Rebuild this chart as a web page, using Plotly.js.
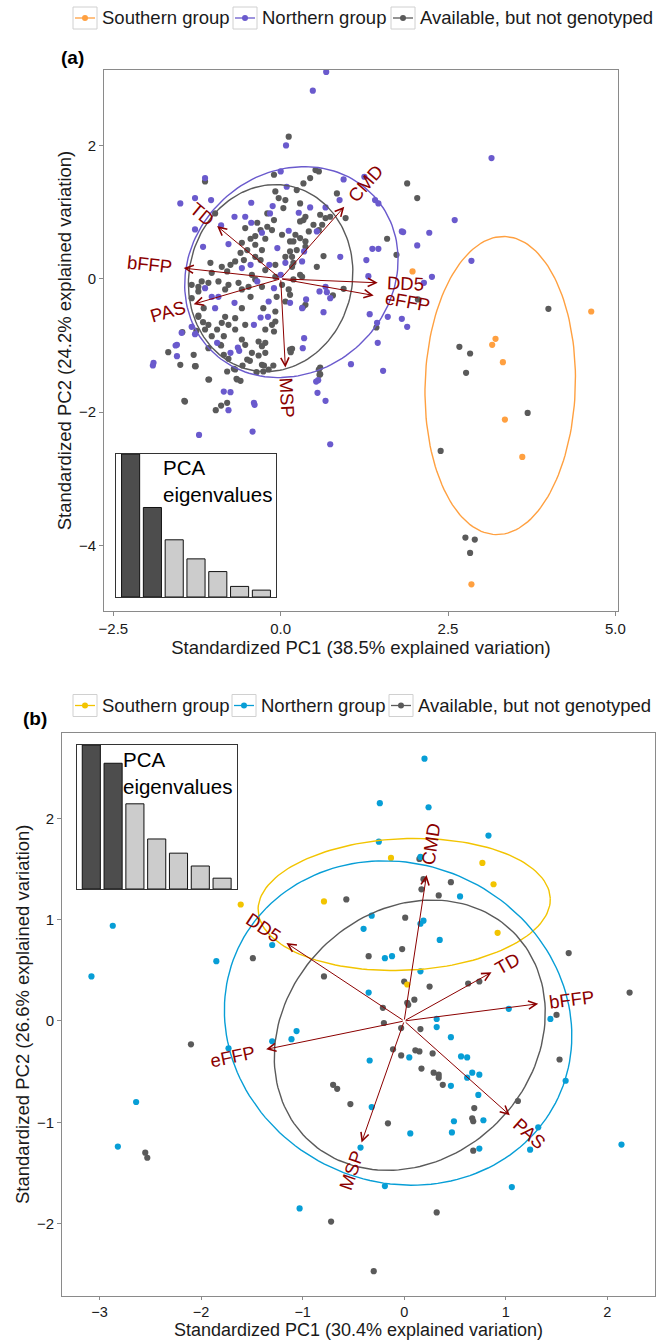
<!DOCTYPE html>
<html><head><meta charset="utf-8">
<script src="https://cdn.plot.ly/plotly-3.0.1.min.js"></script>
<style>html,body{margin:0;padding:0;background:#fff}#chart{width:667px;height:1340px}</style>
</head><body><div id="chart"></div>
<script>
// ---------------- DATA ----------------
const groupNames = ['Southern group', 'Northern group', 'Available, but not genotyped'];

// Panel (a) scores [PC1, PC2]
const southA = [[1.97,0.11],[4.64,-0.49],[3.21,-0.90],[3.16,-0.99],[3.32,-1.25],[3.35,-2.11],[3.61,-2.67],[2.85,-4.58]];
const northA = [[0.68,3.10],[0.48,2.82],[0.08,2.00],[-1.13,1.51],[-1.50,1.13],[-1.28,1.21],[-1.04,1.18],[-1.28,0.74],[-1.16,0.48],
[-0.44,1.14],[-0.69,0.93],[-0.53,0.93],[-0.44,0.84],[-0.89,0.80],[-0.78,0.52],[-0.12,1.09],[-0.16,0.98],[0.00,1.61],[0.09,1.38],
[0.12,0.72],[-0.28,0.69],[-0.05,0.46],[-0.58,0.16],[-0.45,0.21],[-0.17,0.21],[0.07,0.24],[0.00,0.06],[0.94,1.49],[1.25,1.53],
[0.88,1.18],[1.41,1.18],[1.46,1.13],[0.44,1.07],[0.27,0.99],[0.67,1.07],[1.81,0.71],[1.37,0.45],[1.46,0.45],[1.28,0.28],[0.89,0.33],
[1.31,0.04],[0.35,0.41],[0.32,0.26],[0.54,0.71],[3.15,1.81],[2.60,0.88],[1.83,0.70],[2.22,0.69],[2.04,0.50],[2.85,0.27],[2.26,0.03],
[2.14,-0.06],[-0.35,-0.04],[-0.10,-0.14],[-0.93,-0.27],[-1.03,-0.27],[-0.69,-0.36],[-0.18,-0.34],[-0.98,-0.44],[-1.13,-0.14],
[-0.30,-0.58],[-0.19,-0.57],[-0.40,-0.69],[-1.33,-0.72],[-1.28,-0.83],[-1.48,-0.81],[-1.55,-0.99],[-1.55,-1.16],[-0.95,-0.96],
[-0.64,-1.03],[-0.75,-1.11],[-0.85,-1.69],[-0.75,-1.70],[-0.40,-1.86],[0.67,-0.12],[0.58,-0.19],[0.69,-0.20],[0.74,-0.29],
[0.38,-0.31],[0.32,-0.44],[0.64,-0.50],[1.33,-0.53],[1.60,-0.57],[1.81,-0.60],[1.89,-0.72],[1.44,-0.66],[0.35,-0.89],[0.33,-1.04],
[1.45,-0.96],[1.05,-1.28],[1.53,-1.38],[0.53,-1.54],[0.55,-1.71],[0.67,-1.83],[0.14,-0.36],[-1.90,-1.26],[-1.91,-1.30],[-1.57,-1.00],
[-1.22,-2.34],[-0.39,-1.89],[-0.42,-2.29],[0.74,-2.48],[0.56,-1.52],[-0.62,-1.08],[-0.78,-1.97]];
const availA = [[0.12,2.13],[-1.13,1.46],[-0.10,1.56],[-0.08,1.31],[-0.03,1.21],[0.07,1.18],[0.04,1.06],[-0.98,0.98],[-0.20,0.98],
[-0.10,0.88],[-0.35,0.84],[-0.20,0.78],[-0.53,0.76],[-0.30,0.73],[-0.13,0.73],[-0.38,0.64],[0.02,0.66],[-0.45,0.60],[-0.23,0.60],
[-0.58,0.54],[-0.38,0.51],[0.14,0.56],[-0.50,0.43],[-0.28,0.43],[-0.60,0.39],[-0.38,0.33],[-0.55,0.28],[-0.68,0.26],[-0.75,0.21],
[-0.88,0.18],[-0.30,0.28],[-0.08,0.21],[0.17,0.18],[-0.23,0.13],[-0.80,0.11],[-1.03,0.09],[-0.43,0.06],[-1.05,0.24],[0.07,0.33],
[0.14,0.41],[1.89,1.43],[0.84,1.28],[1.59,0.60],[1.73,0.36],[0.97,0.91],[0.64,0.34],[0.54,0.18],[0.29,0.06],[0.52,1.63],[0.57,1.61],
[0.44,1.51],[0.34,1.43],[0.24,1.33],[0.29,1.13],[0.37,0.93],[0.34,0.88],[0.59,0.96],[0.67,0.91],[0.74,0.93],[0.62,0.81],[0.49,0.81],
[0.29,0.86],[0.57,0.73],[0.42,0.71],[0.22,0.66],[0.29,0.61],[0.37,0.56],[0.19,0.56],[0.24,0.43],[0.37,0.48],[0.17,0.33],[0.19,0.24],
[-1.18,-0.04],[-1.08,-0.06],[-0.93,-0.04],[-0.78,-0.09],[-0.63,-0.06],[-0.58,-0.16],[-0.48,-0.12],[-0.28,-0.12],[0.02,-0.09],
[0.12,-0.16],[-1.23,-0.19],[-1.33,-0.29],[-0.83,-0.16],[-0.45,-0.27],[-0.06,-0.27],[0.07,-0.34],[-1.15,-0.44],[-0.58,-0.44],
[-0.26,-0.44],[-0.08,-0.49],[-1.23,-0.57],[-0.83,-0.57],[-0.68,-0.59],[-0.88,-0.66],[-0.78,-0.69],[-1.08,-0.69],[-0.53,-0.69],
[-0.13,-0.69],[-0.08,-0.64],[-1.13,-0.76],[-0.95,-0.76],[-0.68,-0.76],[-0.23,-0.76],[-0.10,-0.79],[-1.03,-0.86],[-0.85,-0.86],
[-0.58,-0.91],[-0.33,-0.94],[-0.23,-0.96],[-0.90,-0.99],[-0.53,-0.99],[-0.28,-1.01],[-1.08,-1.04],[-0.43,-1.11],[-0.23,-1.11],
[-0.85,-1.14],[-1.30,-1.14],[-1.50,-1.29],[-0.50,-1.21],[-0.28,-1.29],[-0.18,-1.36],[-0.26,-1.39],[-1.28,-1.31],[-0.80,-1.39],
[-0.68,-1.36],[-1.08,-1.51],[-0.65,-1.51],[-0.60,-1.53],[-1.43,-1.84],[-0.80,-1.86],[-0.38,-0.01],[-0.08,0.03],[0.32,0.03],
[0.94,-0.15],[0.78,-0.25],[0.37,-0.39],[0.33,-0.43],[0.14,-0.24],[0.14,-1.06],[1.43,-0.73],[0.57,-1.36],[0.58,-1.44],[0.19,-0.01],
[2.04,1.21],[2.67,-1.02],[4.00,-0.45],[2.05,-0.31],[2.83,-1.12],[2.77,-1.41],[3.69,-2.01],[2.39,-2.58],[2.76,-3.88],[2.90,-3.91],
[2.83,-4.11],[-1.68,-1.10],[-1.47,-0.80],[-1.27,-1.31],[-1.07,-1.51],[-1.44,-1.83],[-0.97,-1.97],[-0.89,-1.90],[-0.66,-1.50],
[0.59,-1.33],[0.59,-1.43],[0.17,-1.05],[0.15,-1.10],[-1.16,-0.65],[-1.23,-0.55],[-1.26,-0.78],[-0.89,-1.00],[-0.78,-1.20],
[-0.46,-1.23],[-0.33,-1.15],[-0.25,-1.30],[-0.11,-1.30],[-0.36,-1.40],[-0.57,-1.30],[-0.70,-1.35],[-1.33,-0.09],[-1.23,-0.12]];

// Panel (b) scores [PC1, PC2]
const southB = [[-1.61,1.15],[-0.79,1.18],[-0.13,1.61],[0.77,1.56],[0.88,1.35],[0.92,0.87],[0.03,0.36]];
const northB = [[-2.87,0.94],[-1.30,0.75],[-1.85,0.59],[-3.08,0.44],[0.20,2.59],[-0.24,2.15],[0.24,2.11],[0.83,1.83],[-0.25,1.77],
[0.16,1.62],[0.55,1.23],[-0.32,1.04],[0.16,0.96],[0.19,0.99],[-0.40,0.91],[0.35,0.80],[-0.19,0.62],[-0.12,0.64],[0.16,0.49],
[-0.35,0.28],[1.03,0.12],[1.44,0.02],[0.32,0.02],[0.32,-0.06],[-1.06,-0.10],[-1.30,-0.20],[-1.11,-0.18],[0.46,-0.16],[-1.73,-0.27],
[0.05,-0.36],[0.56,-0.35],[0.62,-0.36],[-0.34,-0.39],[0.67,-0.51],[0.74,-0.53],[0.62,-0.56],[0.46,-0.64],[1.59,-0.59],[0.73,-0.73],
[-2.64,-0.80],[-0.32,-0.85],[0.49,-0.99],[0.78,-0.98],[0.06,-1.11],[0.47,-1.10],[1.32,-1.05],[2.14,-1.22],[-2.82,-1.24],[-0.43,-1.25],
[1.24,-1.27],[0.74,-1.26],[-0.19,-1.63],[1.06,-1.64],[-1.03,-1.85]];
const availB = [[-1.49,0.62],[-0.57,1.20],[-0.79,0.44],[0.19,1.40],[0.46,1.37],[0.17,1.30],[0.34,1.24],[0.01,1.02],[1.62,0.67],
[-0.02,0.71],[-0.35,0.64],[0.00,0.39],[0.25,0.34],[0.63,0.37],[0.74,0.39],[0.15,1.60],[2.22,0.28],[0.10,0.21],[0.03,0.18],[0.04,0.16],
[-0.21,0.13],[1.50,0.06],[-0.20,-0.02],[-0.03,-0.07],[0.16,-0.08],[-2.10,-0.23],[-0.11,-0.28],[0.11,-0.29],[0.15,-0.30],[-0.03,-0.34],
[0.28,-0.32],[0.17,-0.47],[0.29,-0.51],[0.34,-0.53],[0.34,-0.56],[0.38,-0.63],[1.53,-0.38],[-0.70,-0.63],[-0.66,-0.67],[1.12,-0.79],
[-0.53,-0.82],[0.69,-0.86],[0.67,-0.96],[0.68,-0.99],[-0.16,-1.01],[-2.55,-1.30],[-2.53,-1.35],[0.68,-1.28],[-0.72,-1.98],[0.32,-1.89],
[-0.30,-2.47]];

// Normal-data ellipses per group: [centre x, centre y, semi-axis a, semi-axis b, angle of a (deg)]
const ellipseA = [[3.28,-1.60,2.236,1.123,88.3],[0.16,0.10,1.68,1.49,43],[-0.15,0.01,1.41,1.22,78]];
const ellipseB = [[0.00,1.15,1.44,0.65,2.5],[-0.06,-0.02,1.74,1.57,155],[0.055,-0.14,1.44,1.22,45]];

// Variable loadings (arrow tips)
const loadNamesA = ['CMD','TD','bFFP','PAS','MSP','DD5','eFFP'];
const loadXA = [0.95,-0.95,-1.45,-1.30,0.07,1.45,1.39];
const loadYA = [1.08,0.79,0.16,-0.38,-1.33,-0.06,-0.25];
const loadNamesB = ['CMD','DD5','TD','bFFP','PAS','MSP','eFFP'];
const loadXB = [0.22,-1.16,0.86,1.32,1.04,-0.42,-1.36];
const loadYB = [1.44,0.77,0.48,0.17,-0.93,-1.20,-0.28];

// PCA eigenvalues (insets)
const pcIndex = [1,2,3,4,5,6,7];
const eigenA = [2.70,1.69,1.08,0.72,0.48,0.20,0.13];
const eigenB = [2.13,1.86,1.26,0.74,0.53,0.34,0.16];
const retainedPCs = 2;

// Tick labels
const xTickValsA = [-2.5,0,2.5,5], xTickTextA = ['\u22122.5','0.0','2.5','5.0'];
const yTickValsA = [-4,-2,0,2], yTickTextA = ['\u22124','\u22122','0','2'];
const xTickValsB = [-3,-2,-1,0,1,2], xTickTextB = ['\u22123','\u22122','\u22121','0','1','2'];
const yTickValsB = [-2,-1,0,1,2], yTickTextB = ['\u22122','\u22121','0','1','2'];
const xTitleA = 'Standardized PC1 (38.5% explained variation)';
const yTitleA = 'Standardized PC2 (24.2% explained variation)';
const xTitleB = 'Standardized PC1 (30.4% explained variation)';
const yTitleB = 'Standardized PC2 (26.6% explained variation)';

// ---------------- STYLE ----------------
const W = 667, H = 1340;
const FONT = '"Liberation Sans", Arial, Helvetica, sans-serif';
const colorsA = ['#FFA040', '#6A5ACD', '#5A5A5A'];
const colorsB = ['#F2C400', '#079ED6', '#5A5A5A'];
const ARROW = '#8B0000';
const TXT = '#1a1a1a';
const px = v => v / W, py = v => 1 - v / H;

function ellipseTrace(p, color, xa, ya) {
  const [cx, cy, a, b, ang] = p, phi = ang * Math.PI / 180, xs = [], ys = [];
  for (let i = 0; i <= 160; i++) {
    const t = 2 * Math.PI * i / 160, ex = a * Math.cos(t), ey = b * Math.sin(t);
    xs.push(cx + ex * Math.cos(phi) - ey * Math.sin(phi));
    ys.push(cy + ex * Math.sin(phi) + ey * Math.cos(phi));
  }
  return {x: xs, y: ys, xaxis: xa, yaxis: ya, mode: 'lines', line: {color, width: 1.4}, hoverinfo: 'skip', showlegend: false};
}
function pointTrace(pts, color, xa, ya) {
  return {x: pts.map(p => p[0]), y: pts.map(p => p[1]), xaxis: xa, yaxis: ya, mode: 'markers',
          marker: {color, size: 6.2, line: {width: 0}}, showlegend: false, hoverinfo: 'skip'};
}

const traces = [];
[availA, northA, southA].forEach((g, k) => traces.push(pointTrace(g, colorsA[2 - k], 'x', 'y')));
[availB, northB, southB].forEach((g, k) => traces.push(pointTrace(g, colorsB[2 - k], 'x2', 'y2')));
ellipseA.forEach((p, k) => traces.push(ellipseTrace(p, colorsA[k], 'x', 'y')));
ellipseB.forEach((p, k) => traces.push(ellipseTrace(p, colorsB[k], 'x2', 'y2')));
function barTrace(vals, xa, ya) {
  return {type: 'bar', x: pcIndex, y: vals, xaxis: xa, yaxis: ya, showlegend: false, hoverinfo: 'skip',
          marker: {color: vals.map((v, i) => i < retainedPCs ? '#4D4D4D' : '#CCCCCC'), line: {color: '#111', width: 1}}};
}
traces.push(barTrace(eigenA, 'x3', 'y3'));
traces.push(barTrace(eigenB, 'x4', 'y4'));

// text measurement for label offsets (ggbiplot hjust = (1 - 1.5*sign)/2)
const LABEL_SIZE = 18.5;
const ctx = document.createElement('canvas').getContext('2d');
ctx.font = LABEL_SIZE + 'px "Liberation Sans"';

const annotations = [];
function addLoadings(names, xs, ys, xa, ya) {
  names.forEach((n, i) => {
    const x = xs[i], y = ys[i];
    annotations.push({x, y, ax: 0, ay: 0, xref: xa, yref: ya, axref: xa, ayref: ya, text: '', showarrow: true,
      arrowhead: 5, arrowsize: 1.6, arrowwidth: 1, arrowcolor: ARROW, standoff: 0});
    const len = Math.hypot(x, y), ux = x / len, uy = y / len;
    const w = ctx.measureText(n).width, off = 0.75 * w;
    const ang = Math.atan(y / x) * 180 / Math.PI;
    annotations.push({x, y, xref: xa, yref: ya, text: n, showarrow: false, textangle: -ang,
      xshift: ux * off, yshift: uy * off, xanchor: 'center', yanchor: 'middle',
      font: {family: FONT, size: LABEL_SIZE, color: ARROW}});
  });
}
addLoadings(loadNamesA, loadXA, loadYA, 'x', 'y');
addLoadings(loadNamesB, loadXB, loadYB, 'x2', 'y2');

// inset captions
annotations.push({xref: 'x3', x: 2.42, yref: 'y3 domain', y: 1, yshift: -1, xanchor: 'left', yanchor: 'top', align: 'left',
  text: 'PCA<br>eigenvalues', showarrow: false, borderpad: 0, font: {family: FONT, size: 20.5, color: '#000'}});
annotations.push({xref: 'x4', x: 2.42, yref: 'y4 domain', y: 1, yshift: -2, xanchor: 'left', yanchor: 'top', align: 'left',
  text: 'PCA<br>eigenvalues', showarrow: false, borderpad: 0, font: {family: FONT, size: 20.5, color: '#000'}});

// panel tags
annotations.push({xref: 'paper', yref: 'paper', x: px(59), y: py(57), xanchor: 'left', yanchor: 'middle', showarrow: false,
  text: '<b>(a)</b>', font: {family: FONT, size: 19, color: '#000'}});
annotations.push({xref: 'paper', yref: 'paper', x: px(21), y: py(718), xanchor: 'left', yanchor: 'middle', showarrow: false,
  text: '<b>(b)</b>', font: {family: FONT, size: 19, color: '#000'}});

// legends (manual, ggplot style keys)
const shapes = [];
function addLegend(keyLefts, cy, colors) {
  keyLefts.forEach((kl, i) => {
    shapes.push({type: 'rect', xref: 'paper', yref: 'paper', x0: px(kl), x1: px(kl + 24), y0: py(cy + 11), y1: py(cy - 11),
      line: {color: '#D0D0D0', width: 1}, fillcolor: '#fff'});
    shapes.push({type: 'line', xref: 'paper', yref: 'paper', x0: px(kl + 2), x1: px(kl + 22), y0: py(cy), y1: py(cy),
      line: {color: colors[i], width: 1.3}});
    shapes.push({type: 'circle', xref: 'paper', yref: 'paper', x0: px(kl + 9), x1: px(kl + 15), y0: py(cy + 3), y1: py(cy - 3),
      fillcolor: colors[i], line: {width: 0}});
    annotations.push({xref: 'paper', yref: 'paper', x: px(kl + 27), y: py(cy), xanchor: 'left', yanchor: 'middle',
      showarrow: false, text: groupNames[i], font: {family: FONT, size: 18.5, color: TXT}});
  });
}
addLegend([73, 233, 391], 18, colorsA);
addLegend([73, 232, 389], 705.5, colorsB);

function mainAxis(domain, range, tv, tt, title, anchor, opts) {
  const o = Object.assign({ticklen: 4, tickSize: 15, titleSize: 18.5, standoff: 2}, opts || {});
  return {domain, range, anchor, tickvals: tv, ticktext: tt, showline: true, mirror: true, linecolor: '#8A8A8A', linewidth: 1,
    ticks: 'outside', ticklen: o.ticklen, tickwidth: 1, tickcolor: '#8A8A8A', tickfont: {family: FONT, size: o.tickSize, color: TXT},
    showgrid: false, zeroline: false, automargin: false, fixedrange: true,
    title: {text: title, font: {family: FONT, size: o.titleSize, color: TXT}, standoff: o.standoff}};
}
function insetAxis(domain, range, anchor) {
  return {domain, range, anchor, showline: true, mirror: true, linecolor: '#333', linewidth: 1, ticks: '',
    showticklabels: false, showgrid: false, zeroline: false, automargin: false, fixedrange: true};
}

const layout = {
  width: W, height: H, margin: {l: 0, r: 0, t: 0, b: 0}, paper_bgcolor: '#fff', plot_bgcolor: '#fff',
  showlegend: false, bargap: 0.17, font: {family: FONT},
  xaxis: mainAxis([px(104), px(618)], [-2.64, 5.04], xTickValsA, xTickTextA, xTitleA, 'y'),
  yaxis: mainAxis([py(611), py(70)], [-4.98, 3.13], yTickValsA, yTickTextA, yTitleA, 'x'),
  xaxis2: mainAxis([px(62), px(655)], [-3.37, 2.47], xTickValsB, xTickTextB, xTitleB, 'y2',
                   {ticklen: 3, tickSize: 14.5, titleSize: 18, standoff: 0}),
  yaxis2: mainAxis([py(1295.5), py(733)], [-2.71, 2.843], yTickValsB, yTickTextB, yTitleB, 'x2'),
  xaxis3: insetAxis([px(116), px(276)], [0.33, 7.67], 'y3'),
  yaxis3: insetAxis([py(597), py(454)], [0, eigenA[0]], 'x3'),
  xaxis4: insetAxis([px(76.7), px(236.7)], [0.33, 7.67], 'y4'),
  yaxis4: insetAxis([py(889), py(745)], [0, eigenB[0]], 'x4'),
  shapes, annotations
};
Plotly.newPlot('chart', traces, layout, {staticPlot: true, displayModeBar: false});
</script></body></html>
